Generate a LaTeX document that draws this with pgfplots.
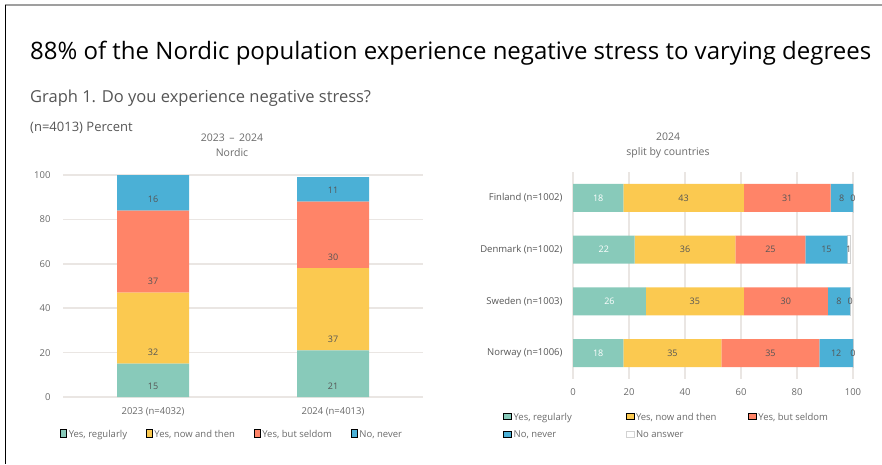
\documentclass[border=0pt]{standalone}
\usepackage{fontspec}
\setmainfont{Open Sans}
\usepackage{pgfplots}
\usepackage{pgfplotstable}
\pgfplotsset{compat=1.18}
\definecolor{cteal}{HTML}{88CABA}
\definecolor{cyel}{HTML}{FBC950}
\definecolor{cred}{HTML}{FF8468}
\definecolor{cblue}{HTML}{4BB0D6}
\definecolor{cgrid}{HTML}{EAE6E3}
\definecolor{ctxt}{HTML}{555555}
\definecolor{ctick}{HTML}{6A6A6A}

\pgfplotstableread{
cat reg now seldom never
0 15 32 37 16
1 21 37 30 11
}\nordic

\pgfplotstableread{
cat reg now seldom never noans
0 18 43 31 8 0
1 22 36 25 15 1
2 26 35 30 8 0
3 18 35 35 12 0
}\countries

\pgfplotsset{
  /pgf/number format/assume math mode=true,
  common/.style={
    scale only axis,
    axis line style={draw=none},
    major tick length=0pt,
    tick label style={font=\fontsize{9.5}{11}\selectfont, text=ctick},
    grid style={cgrid, line width=1.5pt},
    legend style={draw=none, fill=none, font=\fontsize{9.5}{11}\selectfont\color{ctick}, inner sep=0pt,
      row sep=5pt},
    legend image code/.code={\path[#1] (0pt,-3pt) rectangle (6pt,3pt);},
    legend cell align=left,
  },
  lab/.style={visualization depends on={\thisrow{#1} \as \rawv}},
}

\begin{document}
\begin{tikzpicture}
\useasboundingbox (0pt,0pt) rectangle (882pt,464pt);
\draw[gray!75, line width=2pt] (5pt,459pt) -- (882pt,459pt);
\draw[black, line width=1pt] (5pt,459pt) -- (5pt,0pt);
\node[anchor=base west, inner sep=0] at (30pt,404pt) {\fontsize{24}{28}\selectfont 88\% of the Nordic population experience negative stress to varying degrees};
\node[anchor=base west, inner sep=0, text=ctxt] at (30pt,361pt) {\fontsize{16.5}{18}\selectfont Graph 1. Do you experience negative stress?};
\node[anchor=base west, inner sep=0, text=ctxt] at (30pt,332pt) {\fontsize{13}{14}\selectfont (n=4013) Percent};
\node[align=center, text=ctick, font=\fontsize{10.5}{15}\selectfont] at (232pt,319pt) {2023 \,--\, 2024\\Nordic};
\node[align=center, text=ctick, font=\fontsize{10.5}{15}\selectfont] at (668pt,319pt) {2024\\split by countries};

\begin{axis}[common,
  at={(63pt,67pt)}, anchor=south west, width=360pt, height=222pt,
  xmin=-0.5, xmax=1.5, ymin=0, ymax=100,
  ybar stacked, bar width=72pt,
  ymajorgrids, ytick={0,20,...,100},
  xtick=data, xticklabels={2023 (n=4032), 2024 (n=4013)},
  xticklabel style={yshift=-7pt},
  yticklabel style={xshift=-9pt},
  nodes near coords={\pgfmathprintnumber{\rawv}},
  every node near coord/.append style={anchor=center, font=\fontsize{9}{10}\selectfont, text=ctxt,
    shift={(axis direction cs:0,-\rawv/2)}, yshift=11pt},
  legend columns=4,
  legend style={at={(0.47,-0.171)}, anchor=center,
    /tikz/every even column/.append style={column sep=17pt}},
]
\addplot[fill=cteal, draw=none, lab=reg] table[x=cat, y=reg] {\nordic};
\addlegendentry{Yes, regularly}
\addplot[fill=cyel, draw=none, lab=now] table[x=cat, y=now] {\nordic};
\addlegendentry{Yes, now and then}
\addplot[fill=cred, draw=none, lab=seldom] table[x=cat, y=seldom] {\nordic};
\addlegendentry{Yes, but seldom}
\addplot[fill=cblue, draw=none, lab=never] table[x=cat, y=never] {\nordic};
\addlegendentry{No, never}
\end{axis}

\begin{axis}[common,
  at={(573pt,85pt)}, anchor=south west, width=280pt, height=207pt,
  xmin=0, xmax=100, ymin=-0.5, ymax=3.5, y dir=reverse,
  clip=false,
  xbar stacked, bar width=28pt,
  xmajorgrids, xtick={0,20,...,100},
  ytick={0,1,2,3},
  yticklabels={Finland (n=1002), Denmark (n=1002), Sweden (n=1003), Norway (n=1006)},
  yticklabel style={xshift=-7pt, text=ctxt},
  xticklabel style={yshift=-6pt},
  nodes near coords={\pgfmathprintnumber{\rawv}},
  every node near coord/.append style={anchor=center, font=\fontsize{9}{10}\selectfont, text=ctxt},
  legend columns=3,
  legend style={at={(-0.25,-0.227)}, anchor=west,
    /tikz/every even column/.append style={column sep=0pt}},
]
\addplot[fill=cteal, draw=none, lab=reg, nodes near coords style={text=white}] table[x=reg, y=cat] {\countries};
\addlegendentry{\makebox[110pt][l]{Yes, regularly}}
\addplot[fill=cyel, draw=none, lab=now] table[x=now, y=cat] {\countries};
\addlegendentry{\makebox[110pt][l]{Yes, now and then}}
\addplot[fill=cred, draw=none, lab=seldom] table[x=seldom, y=cat] {\countries};
\addlegendentry{Yes, but seldom}
\addplot[fill=cblue, draw=none, lab=never] table[x=never, y=cat] {\countries};
\addlegendentry{No, never}
\addplot[fill=white, draw=gray!35, line width=0.4pt, lab=noans] table[x expr=\thisrow{noans}+0.0001, y=cat] {\countries};
\addlegendentry{No answer}
\end{axis}
\end{tikzpicture}
\end{document}
